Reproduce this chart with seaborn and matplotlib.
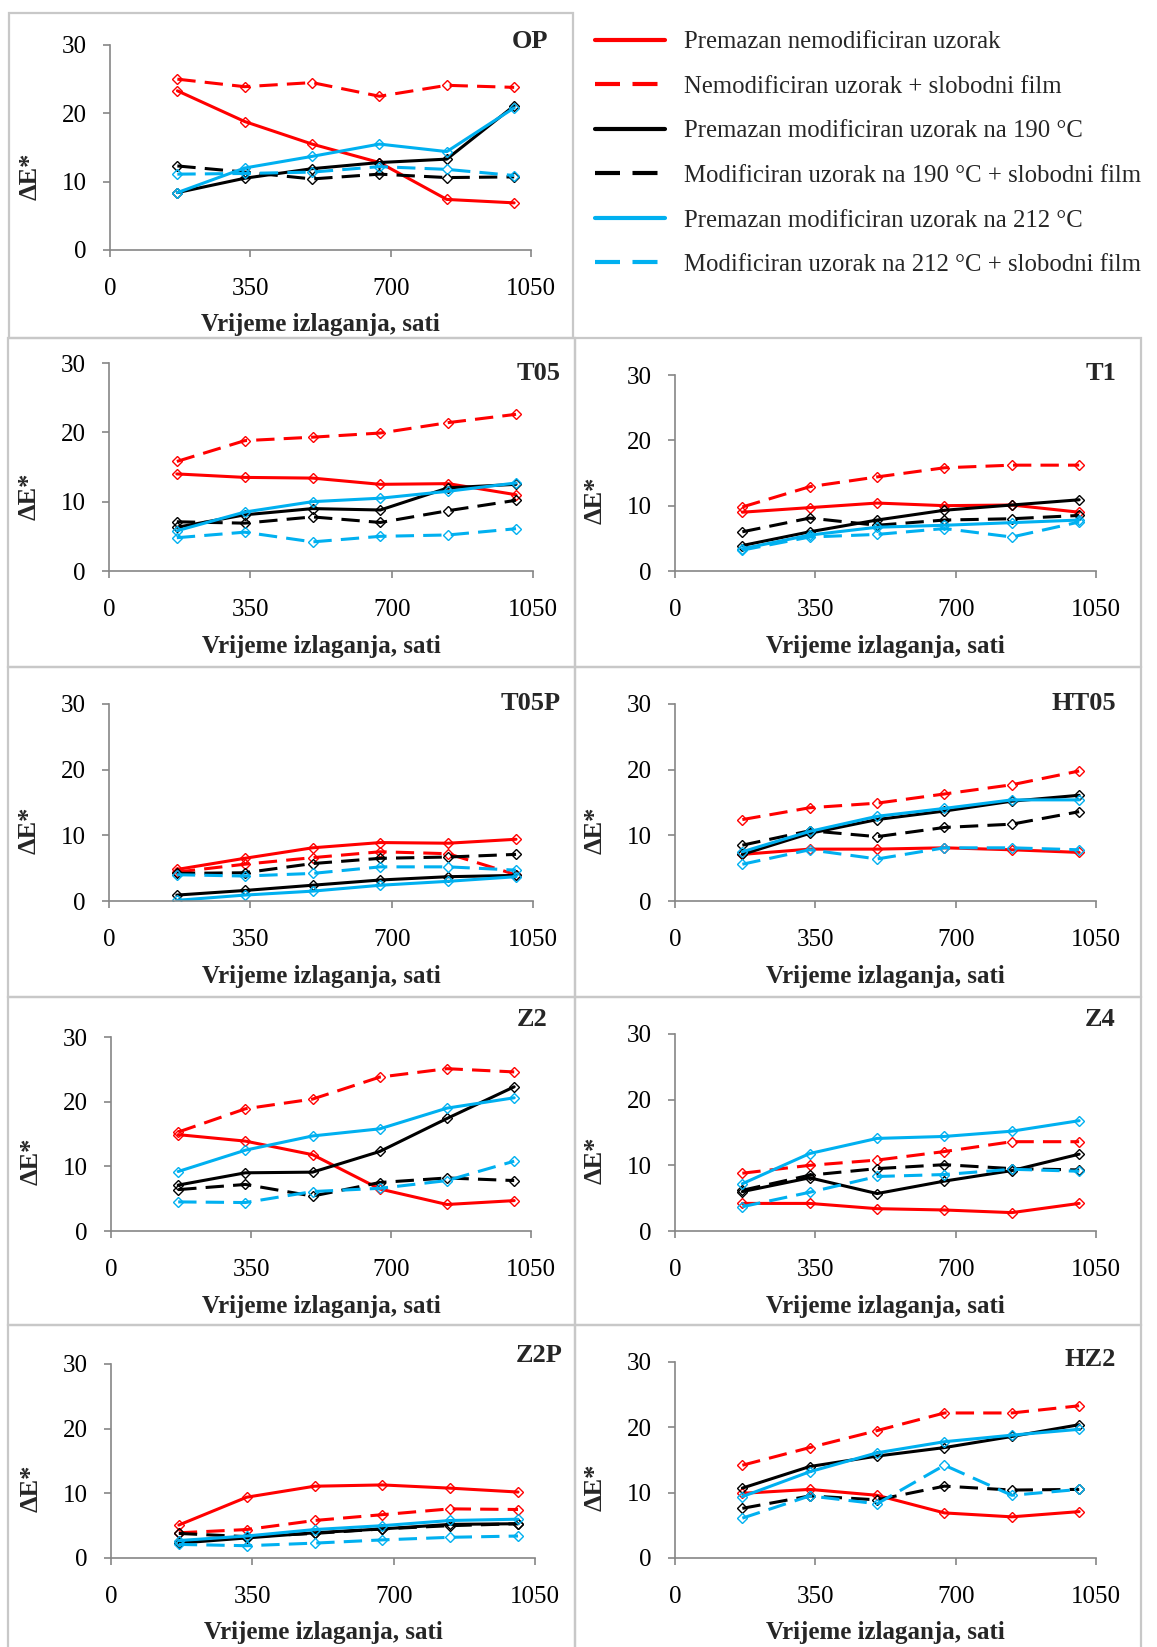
import matplotlib
matplotlib.use('Agg')
import matplotlib.pyplot as plt
import seaborn as sns
import pandas as pd
from matplotlib.lines import Line2D
from matplotlib.patches import Rectangle

# vrijeme izlaganja (sati)
sati = [168, 336, 504, 672, 840, 1008]

serije = ['Premazan nemodificiran uzorak',
          'Nemodificiran uzorak + slobodni film',
          'Premazan modificiran uzorak na 190 °C',
          'Modificiran uzorak na 190 °C + slobodni film',
          'Premazan modificiran uzorak na 212 °C',
          'Modificiran uzorak na 212 °C + slobodni film']

# ΔE* za svaki uzorak, redom kao serije
OP = [[23.3, 18.8, 15.5, 12.8, 7.4, 6.9],
      [25.0, 23.9, 24.5, 22.5, 24.1, 23.8],
      [8.4, 10.5, 11.9, 12.8, 13.3, 21.1],
      [12.3, 11.4, 10.4, 11.1, 10.6, 10.7],
      [8.4, 12.0, 13.7, 15.5, 14.4, 20.8],
      [11.1, 11.2, 11.4, 12.2, 11.8, 10.9]]
T05 = [[14.0, 13.5, 13.4, 12.5, 12.6, 11.0],
       [15.8, 18.8, 19.3, 19.9, 21.4, 22.6],
       [6.3, 8.1, 9.0, 8.8, 12.0, 12.5],
       [7.1, 6.9, 7.8, 7.0, 8.7, 10.2],
       [5.8, 8.5, 10.0, 10.5, 11.5, 12.7],
       [4.8, 5.6, 4.2, 5.0, 5.2, 6.1]]
T1 = [[9.0, 9.7, 10.4, 10.0, 10.1, 9.0],
      [9.8, 12.9, 14.4, 15.8, 16.2, 16.2],
      [3.9, 6.0, 7.8, 9.3, 10.1, 10.9],
      [6.0, 8.1, 7.0, 7.8, 8.0, 8.5],
      [3.4, 5.5, 6.7, 7.0, 7.4, 7.8],
      [3.2, 5.2, 5.6, 6.5, 5.2, 7.5]]
T05P = [[4.8, 6.5, 8.1, 8.9, 8.8, 9.4],
        [4.4, 5.6, 6.6, 7.5, 7.2, 4.0],
        [0.9, 1.6, 2.4, 3.2, 3.7, 3.9],
        [4.2, 4.3, 5.7, 6.5, 6.7, 7.1],
        [0.1, 0.9, 1.5, 2.4, 3.0, 3.7],
        [4.0, 3.8, 4.2, 5.2, 5.2, 4.7]]
HT05 = [[7.1, 7.9, 7.9, 8.1, 7.8, 7.4],
        [12.4, 14.2, 14.9, 16.3, 17.7, 19.8],
        [7.1, 10.3, 12.4, 13.7, 15.2, 16.1],
        [8.5, 10.7, 9.8, 11.2, 11.7, 13.6],
        [7.5, 10.6, 12.9, 14.1, 15.4, 15.4],
        [5.6, 7.8, 6.4, 8.1, 8.1, 7.8]]
Z2 = [[14.9, 13.9, 11.8, 6.5, 4.1, 4.7],
      [15.3, 18.9, 20.4, 23.8, 25.1, 24.6],
      [7.1, 9.0, 9.1, 12.3, 17.4, 22.3],
      [6.4, 7.2, 5.4, 7.5, 8.2, 7.8],
      [9.2, 12.5, 14.7, 15.8, 19.0, 20.6],
      [4.5, 4.4, 6.1, 6.6, 7.8, 10.8]]
Z4 = [[4.2, 4.2, 3.4, 3.2, 2.8, 4.2],
      [8.8, 10.0, 10.8, 12.1, 13.6, 13.6],
      [6.0, 8.1, 5.7, 7.6, 9.2, 11.7],
      [6.2, 8.5, 9.5, 10.1, 9.5, 9.3],
      [7.2, 11.8, 14.1, 14.4, 15.2, 16.8],
      [3.7, 5.9, 8.3, 8.6, 9.4, 9.1]]
Z2P = [[5.1, 9.4, 11.1, 11.3, 10.8, 10.2],
       [3.9, 4.4, 5.8, 6.7, 7.6, 7.5],
       [2.3, 3.1, 3.9, 4.5, 5.2, 5.3],
       [3.8, 3.3, 3.8, 4.5, 5.0, 5.3],
       [2.7, 3.4, 4.4, 5.0, 5.8, 6.0],
       [2.1, 1.9, 2.3, 2.8, 3.2, 3.4]]
HZ2 = [[9.9, 10.5, 9.6, 6.9, 6.3, 7.1],
       [14.2, 16.9, 19.5, 22.2, 22.2, 23.3],
       [10.7, 14.0, 15.6, 16.9, 18.6, 20.4],
       [7.6, 9.5, 8.9, 11.0, 10.4, 10.5],
       [9.4, 13.2, 16.1, 17.8, 18.8, 19.7],
       [6.1, 9.5, 8.3, 14.2, 9.6, 10.5]]

boje = ['#FF0000', '#FF0000', '#000000', '#000000', '#00B0F0', '#00B0F0']
crta = (0, (6, 3))
stilovi = ['-', crta, '-', crta, '-', crta]

W, H = 1157, 1647
# naziv, podaci, osi (lijevo, y30, desno, y0), naslov (x, y), okvir (l, t, d, b) u pikselima
paneli = [
    ('OP', OP, (110, 45, 531, 250), (548, 42), (9, 13, 573, 338)),
    ('T05', T05, (109, 363, 533, 571), (561, 373), (8, 338, 575, 667)),
    ('T1', T1, (675, 375, 1096, 571), (1116, 373), (575, 338, 1141, 667)),
    ('T05P', T05P, (109, 704, 533, 901), (561, 704), (8, 667, 575, 997)),
    ('HT05', HT05, (675, 704, 1096, 901), (1116, 704), (575, 667, 1141, 997)),
    ('Z2', Z2, (111, 1037, 531, 1231), (547, 1020), (8, 997, 575, 1325)),
    ('Z4', Z4, (675, 1034, 1096, 1231), (1116, 1020), (575, 997, 1141, 1325)),
    ('Z2P', Z2P, (111, 1364, 535, 1558), (563, 1355), (8, 1325, 575, 1650)),
    ('HZ2', HZ2, (675, 1362, 1096, 1558), (1116, 1359), (575, 1325, 1141, 1650)),
]

sns.set_style('white')
plt.rcParams['font.family'] = ['Liberation Serif', 'DejaVu Serif']
plt.rcParams['axes.unicode_minus'] = False

fig = plt.figure(figsize=(W / 100, H / 100), dpi=100)

for naziv, podaci, (l, t, r, b), (tx, ty), (bl, bt, br, bb) in paneli:
    fig.add_artist(Rectangle((bl / W, 1 - bb / H), (br - bl) / W, (bb - bt) / H,
                             transform=fig.transFigure, fill=False,
                             edgecolor='#C8C8C8', lw=1.6))
    ax = fig.add_axes([l / W, 1 - b / H, (r - l) / W, (b - t) / H])
    for vals, c, ls in zip(podaci, boje, stilovi):
        sns.lineplot(x=sati, y=vals, ax=ax, color=c, linestyle=ls, lw=2.2,
                     marker='D', markersize=5.5, markerfacecolor='none',
                     markeredgecolor=c, markeredgewidth=1.0)
    ax.set_xlim(0, 1050)
    ax.set_ylim(0, 30)
    ax.set_xticks([0, 350, 700, 1050])
    ax.set_yticks([0, 10, 20, 30])
    sns.despine(ax=ax)
    for s in ['left', 'bottom']:
        ax.spines[s].set_color('#868686')
        ax.spines[s].set_linewidth(1.2)
    ax.tick_params(axis='both', direction='out', length=5, width=1.2,
                   color='#868686', labelsize=18, labelcolor='black',
                   left=True, bottom=True)
    ax.tick_params(axis='x', pad=15)
    ax.tick_params(axis='y', pad=12)
    ax.set_xlabel('')
    ax.set_ylabel('')
    ax.text(0.5, -75 / (b - t), 'Vrijeme izlaganja, sati', transform=ax.transAxes,
            ha='center', va='center', fontsize=18, fontweight='bold')
    ax.text(-80 / (r - l), 0.36, 'ΔE*', transform=ax.transAxes, rotation=90,
            ha='center', va='center', fontsize=19, fontweight='bold')
    fig.text(tx / W, 1 - ty / H, naziv, ha='right', va='center',
             fontsize=19, fontweight='bold')

ruke = [Line2D([0], [0], color=c, linestyle=ls, lw=3) for c, ls in zip(boje, stilovi)]
fig.legend(ruke, serije, loc='upper left', bbox_to_anchor=(595 / W, 1 - 31 / H),
           frameon=False, fontsize=17.8, handlelength=2.85, handletextpad=0.75,
           labelspacing=0.9, borderpad=0, borderaxespad=0)

plt.savefig('out.png', dpi=100)
